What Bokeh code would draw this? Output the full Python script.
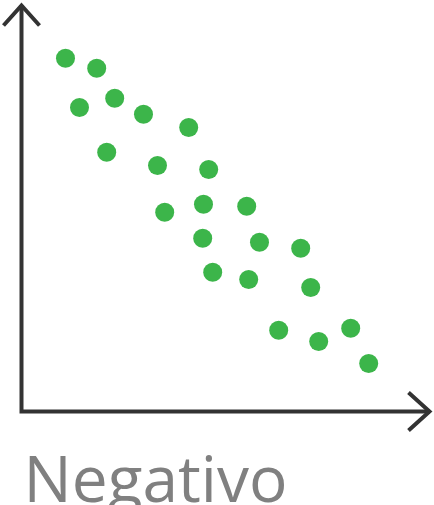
from bokeh.plotting import figure
from bokeh.models import Range1d, Label
from bokeh.embed import file_html
from bokeh.resources import INLINE

# Data (arbitrary units, origin at axis corner)
x_vals = [1.10, 1.88, 1.45, 2.33, 3.05, 4.18, 2.13, 3.40, 4.68, 3.58, 4.55,
          5.63, 4.53, 5.95, 6.98, 4.78, 5.68, 7.23, 6.43, 7.43, 8.23, 8.68]
y_vals = [8.83, 8.58, 7.60, 7.83, 7.43, 7.10, 6.48, 6.15, 6.05, 4.98, 5.18,
          5.13, 4.33, 4.23, 4.08, 3.48, 3.30, 3.10, 2.03, 1.75, 2.08, 1.20]
title_text = "Negativo"

x_axis_end = 10.2
y_axis_end = 10.15

W, H = 434, 505
p = figure(width=W, height=H, output_backend="svg", toolbar_location=None,
           x_range=Range1d(-0.525, -0.525 + W / 40), y_range=Range1d(-2.35, -2.35 + H / 40),
           min_border=0, outline_line_color=None)
p.axis.visible = False
p.grid.visible = False
p.background_fill_color = "white"
p.border_fill_color = "white"

axis_color = "#333333"
# axes
p.line([0, 0, x_axis_end], [y_axis_end, 0, 0], line_color=axis_color, line_width=4,
       line_join="miter")
# arrow heads
p.line([-0.45, 0, 0.45], [y_axis_end - 0.5, y_axis_end, y_axis_end - 0.5],
       line_color=axis_color, line_width=4, line_join="miter", line_cap="butt")
p.line([x_axis_end - 0.525, x_axis_end, x_axis_end - 0.525], [0.475, 0, -0.475],
       line_color=axis_color, line_width=4, line_join="miter", line_cap="butt")

p.scatter(x_vals, y_vals, size=19, fill_color="#3cb54a", line_color=None)

p.add_layout(Label(x=0.05, y=-0.57, text=title_text, text_font="Open Sans",
                   text_font_size="64px", text_color="#808080", text_baseline="top"))

open("out.html", "w").write(file_html(p, INLINE))
